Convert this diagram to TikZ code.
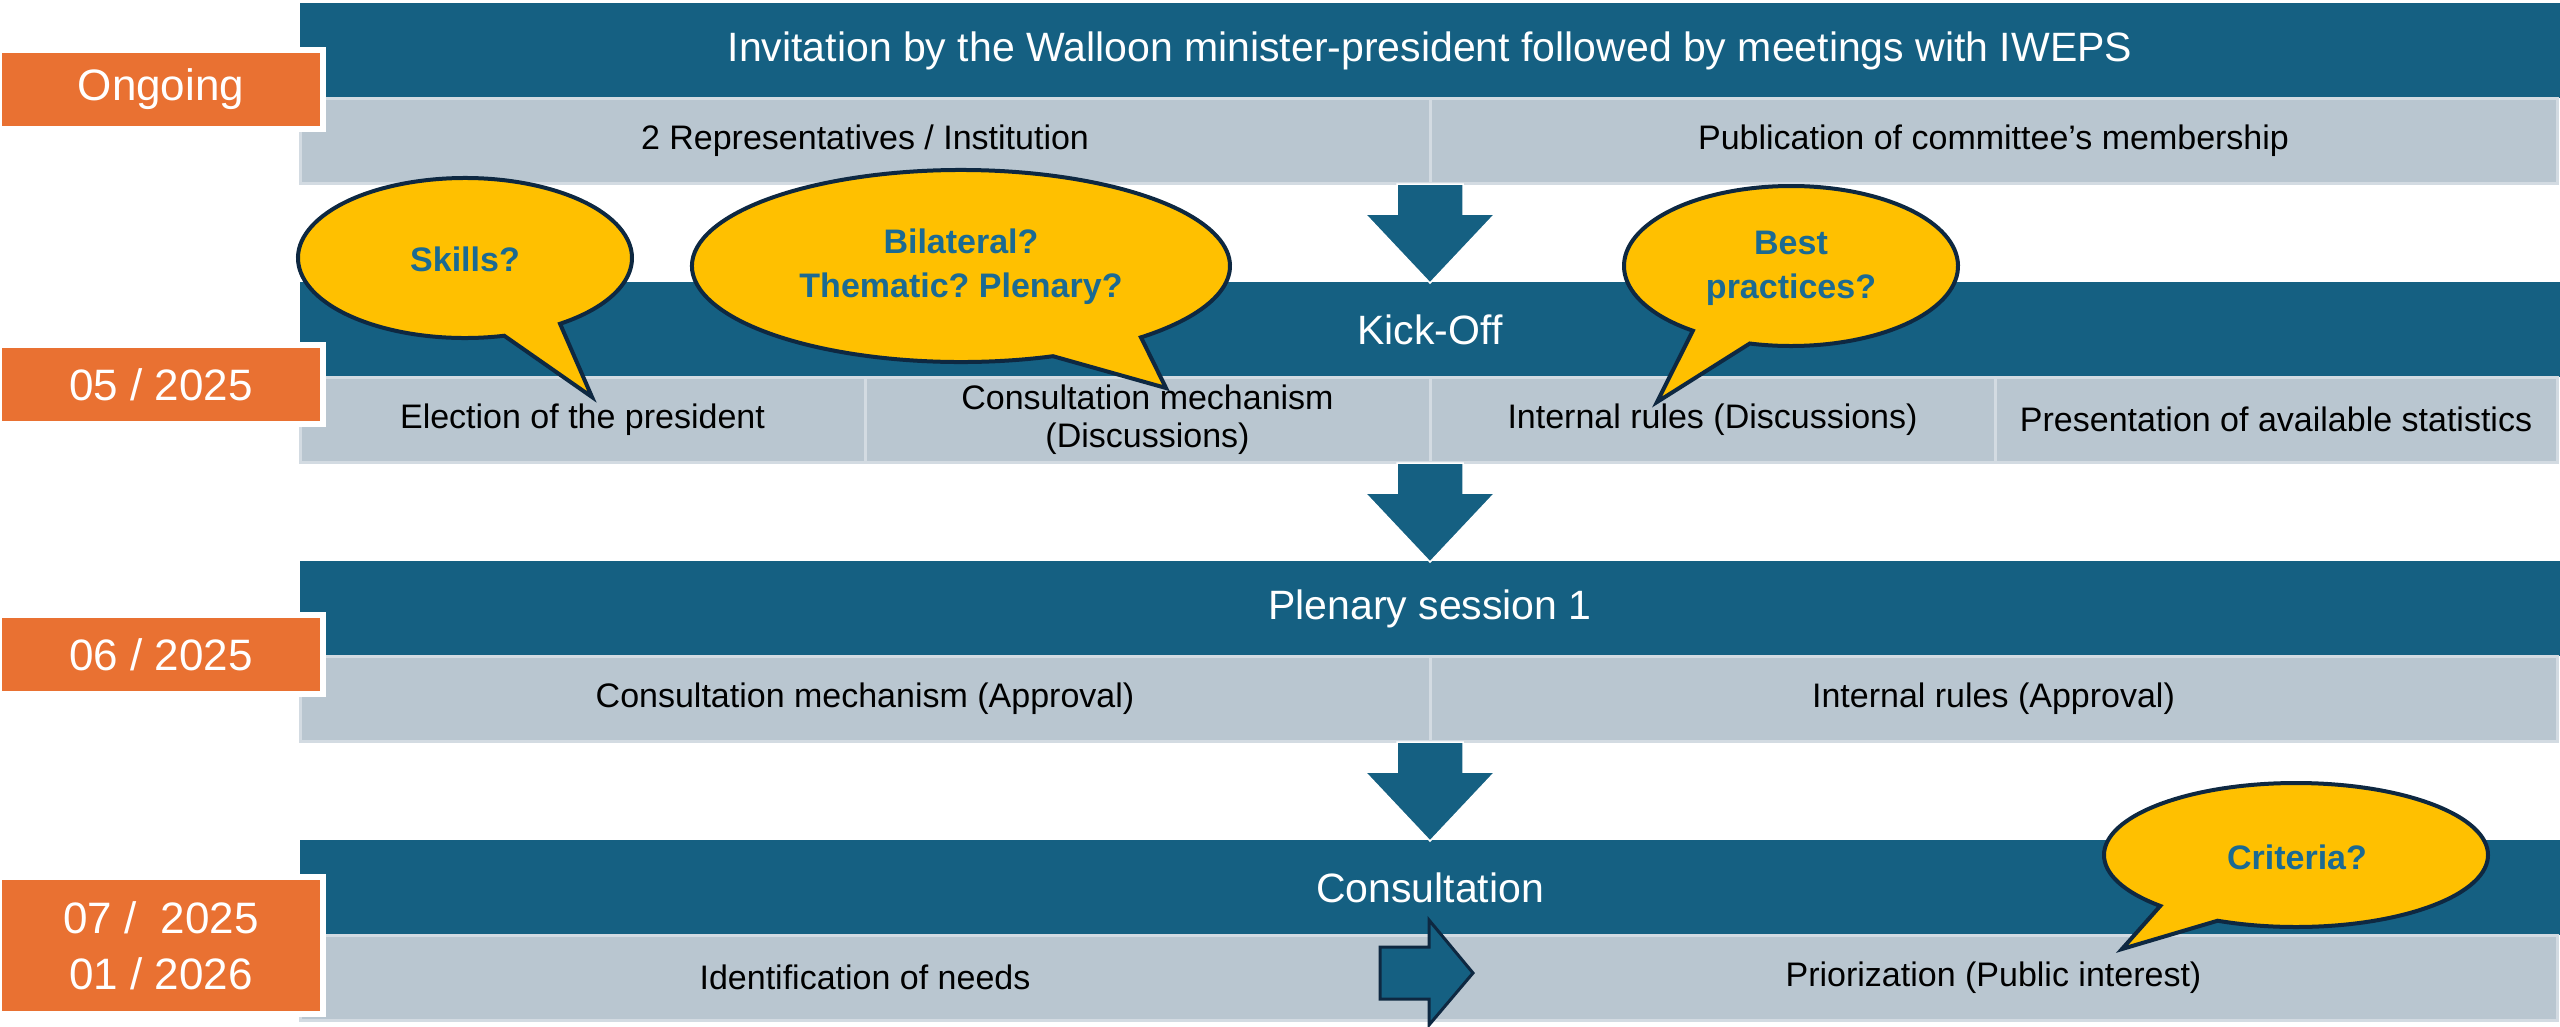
\documentclass[tikz,border=0pt]{standalone}
\usepackage{fontspec}
\setmainfont{Liberation Sans}
\usetikzlibrary{calc}
\definecolor{bandcol}{HTML}{156082}
\definecolor{cellgray}{HTML}{B9C6D0}
\definecolor{cellline}{HTML}{D3DBE2}
\definecolor{dateor}{HTML}{E97132}
\definecolor{bubblefill}{HTML}{FFC000}
\definecolor{bubbleline}{HTML}{0E2841}
\definecolor{bubbletext}{HTML}{1B6A92}
\frenchspacing
\begin{document}
\begin{tikzpicture}[x=1pt,y=-1pt,
  bandbox/.style={fill=bandcol, text=white, anchor=north west, minimum width=2260pt, minimum height=95pt, inner sep=0pt, outer sep=0pt, font=\fontsize{41}{49}\selectfont},
  cellbox/.style={fill=cellgray, draw=cellline, line width=3pt, anchor=north west, minimum height=85pt, inner sep=0pt, outer sep=0pt, align=center, font=\fontsize{34}{38}\selectfont},
  datebox/.style={fill=dateor, draw=white, line width=6pt, text=white, minimum width=324pt, inner sep=0pt, outer sep=0pt, align=center, font=\fontsize{44}{56}\selectfont},
  bubble/.style={fill=bubblefill, draw=bubbleline, line width=4pt, line join=miter},
  bubbletxt/.style={text=bubbletext, align=center, inner sep=0pt, font=\bfseries\fontsize{34}{44}\selectfont},
  downarrow/.style={fill=bandcol, draw=white, line width=1.5pt, line join=miter},
  rightarrow/.style={fill=bandcol, draw=bubbleline, line width=3pt, line join=miter}
]
\useasboundingbox (0,0) rectangle (2560,1026);

% Row 1
\node[bandbox] (t1) at (300,3) {Invitation by the Walloon minister-president followed by meetings with IWEPS};
\node[cellbox, minimum width=1130pt] (c1a) at (300,98) {2 Representatives / Institution};
\node[cellbox, minimum width=1127pt] (c1b) at (1430,98) {Publication of committee’s membership};

% Row 2
\node[bandbox] (t2) at (300,282) {Kick-Off};
\node[cellbox, minimum width=565pt] (c2a) at (300,377) {Election of the president};
\node[cellbox, minimum width=565pt] (c2b) at (865,377) {Consultation mechanism\\(Discussions)};
\node[cellbox, minimum width=565pt] (c2c) at (1430,377) {Internal rules (Discussions)};
\node[cellbox, minimum width=562pt] (c2d) at (1995,377) {Presentation of available statistics};

% Row 3
\node[bandbox] (t3) at (300,561) {Plenary session 1};
\node[cellbox, minimum width=1130pt] (c3a) at (300,656) {Consultation mechanism (Approval)};
\node[cellbox, minimum width=1127pt] (c3b) at (1430,656) {Internal rules (Approval)};

% Row 4
\node[bandbox] (t4) at (300,840) {Consultation};
\node[cellbox, minimum width=1130pt] (c4a) at (300,935) {Identification of needs};
\node[cellbox, minimum width=1127pt] (c4b) at (1430,935) {Priorization (Public interest)};

% Dates
\node[datebox, minimum height=79pt] (d1) at (161,89) {Ongoing};
\node[datebox, minimum height=79pt] (d2) at (161,384.5) {05 / 2025};
\node[datebox, minimum height=79pt] (d3) at (161,654.5) {06 / 2025};
\node[datebox, minimum height=137pt] (d4) at (161,945.5) {07 /\ \ 2025\\01 / 2026};

% Down arrows
\draw[downarrow] ($(c1a.south east)+(-33,1)$) -- ++(66,0) -- ++(0,30) -- ++(32,0) -- ($(t2.north)+(0,1)$) -- ($(c1a.south east)+(-65,31)$) -- ++(32,0) -- cycle;
\draw[downarrow] ($(c2b.south east)+(-33,1)$) -- ++(66,0) -- ++(0,30) -- ++(32,0) -- ($(t3.north)+(0,1)$) -- ($(c2b.south east)+(-65,31)$) -- ++(32,0) -- cycle;
\draw[downarrow] ($(c3a.south east)+(-33,1)$) -- ++(66,0) -- ++(0,30) -- ++(32,0) -- ($(t4.north)+(0,1)$) -- ($(c3a.south east)+(-65,31)$) -- ++(32,0) -- cycle;

% Right arrow between c4a and c4b
\draw[rightarrow] ($(c4a.east)+(-50,-30.5)$) -- ++(49,0) -- ++(0,-27) -- ($(c4a.east)+(43,-4.5)$) -- ($(c4a.east)+(-1,47.5)$) -- ++(0,-26) -- ++(-49,0) -- cycle;

% Callouts
\coordinate (e1) at (465,258);
\coordinate (q1tip) at (592,397);
\draw[bubble] ($(e1)+(76.4:167 and 80)$) arc[start angle=76.4, end angle=415.3, x radius=167, y radius=80] -- (q1tip) -- cycle;
\node[bubbletxt] (q1) at (465,259) {Skills?};

\coordinate (e2) at (961,266);
\coordinate (q2tip) at (1166,388);
\draw[bubble] ($(e2)+(70.0:269 and 96)$) arc[start angle=70.0, end angle=408.0, x radius=269, y radius=96] -- (q2tip) -- cycle;
\node[bubbletxt] (q2) at (961,267) {Bilateral?\\Thematic? Plenary?};

\coordinate (e3) at (1791,266);
\coordinate (q3tip) at (1657,402);
\draw[bubble] ($(e3)+(126.0:167 and 80)$) arc[start angle=126.0, end angle=464.3, x radius=167, y radius=80] -- (q3tip) -- cycle;
\node[bubbletxt] (q3) at (1791,268) {Best\\practices?};

\coordinate (e4) at (2296,855);
\coordinate (q4tip) at (2122,949);
\draw[bubble] ($(e4)+(135.0:192 and 72)$) arc[start angle=135.0, end angle=474.1, x radius=192, y radius=72] -- (q4tip) -- cycle;
\node[bubbletxt] (q4) at (2297,857) {Criteria?};
\end{tikzpicture}
\end{document}
